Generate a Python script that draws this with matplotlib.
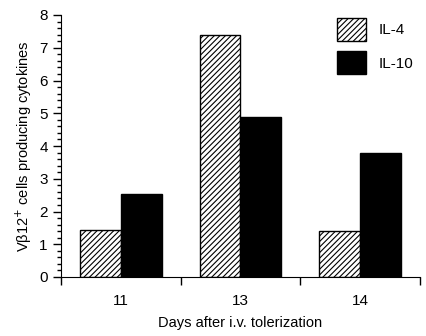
import matplotlib.pyplot as plt
import numpy as np

# values
days = ["11", "13", "14"]
il4 = [1.42, 7.4, 1.4]
il10 = [2.52, 4.9, 3.8]

plt.rcParams['font.family'] = ['Liberation Sans', 'DejaVu Sans']
plt.rcParams['font.size'] = 10.5
plt.rcParams['hatch.linewidth'] = 0.8

fig = plt.figure(figsize=(4.27, 3.36), dpi=100)
ax = fig.add_axes([61 / 427, 1 - 277 / 336, (420 - 61) / 427, (277 - 15) / 336])

x = np.arange(len(days))
w = 0.34
ax.bar(x - w / 2, il4, w, color='white', edgecolor='black', hatch='//////', linewidth=1, label='IL-4')
ax.bar(x + w / 2, il10, w, color='black', edgecolor='black', linewidth=1, label='IL-10')

ax.set_xlim(-0.5, 2.5)
ax.set_ylim(0, 8)

# category boundaries get the ticks, labels sit in the middle
ax.set_xticks(np.arange(-0.5, 3, 1))
ax.set_xticklabels([])
ax.set_xticks(x, minor=True)
ax.set_xticklabels(days, minor=True)
ax.tick_params(axis='x', which='major', direction='out', length=6, width=1)
ax.tick_params(axis='x', which='minor', length=0, pad=12)

ax.set_yticks(range(0, 9))
ax.set_yticks(np.arange(0, 8.01, 0.2), minor=True)
ax.tick_params(axis='y', which='major', direction='out', length=6, width=1, labelsize=11)
ax.tick_params(axis='y', which='minor', direction='out', length=3, width=1)
ax.tick_params(axis='x', which='minor', labelsize=11)

for s in ['top', 'right']:
    ax.spines[s].set_visible(False)

ax.set_xlabel("Days after i.v. tolerization", labelpad=6)
ax.set_ylabel("V\u03b212$^{+}$ cells producing cytokines", labelpad=4)

ax.legend(loc='upper left', bbox_to_anchor=(337 / 427, 1 - 18 / 336),
          bbox_transform=fig.transFigure, frameon=False, borderpad=0,
          borderaxespad=0, handlelength=1.9, handleheight=1.9,
          labelspacing=0.7, handletextpad=0.8, fontsize=11)

fig.savefig("out.png", dpi=100)
